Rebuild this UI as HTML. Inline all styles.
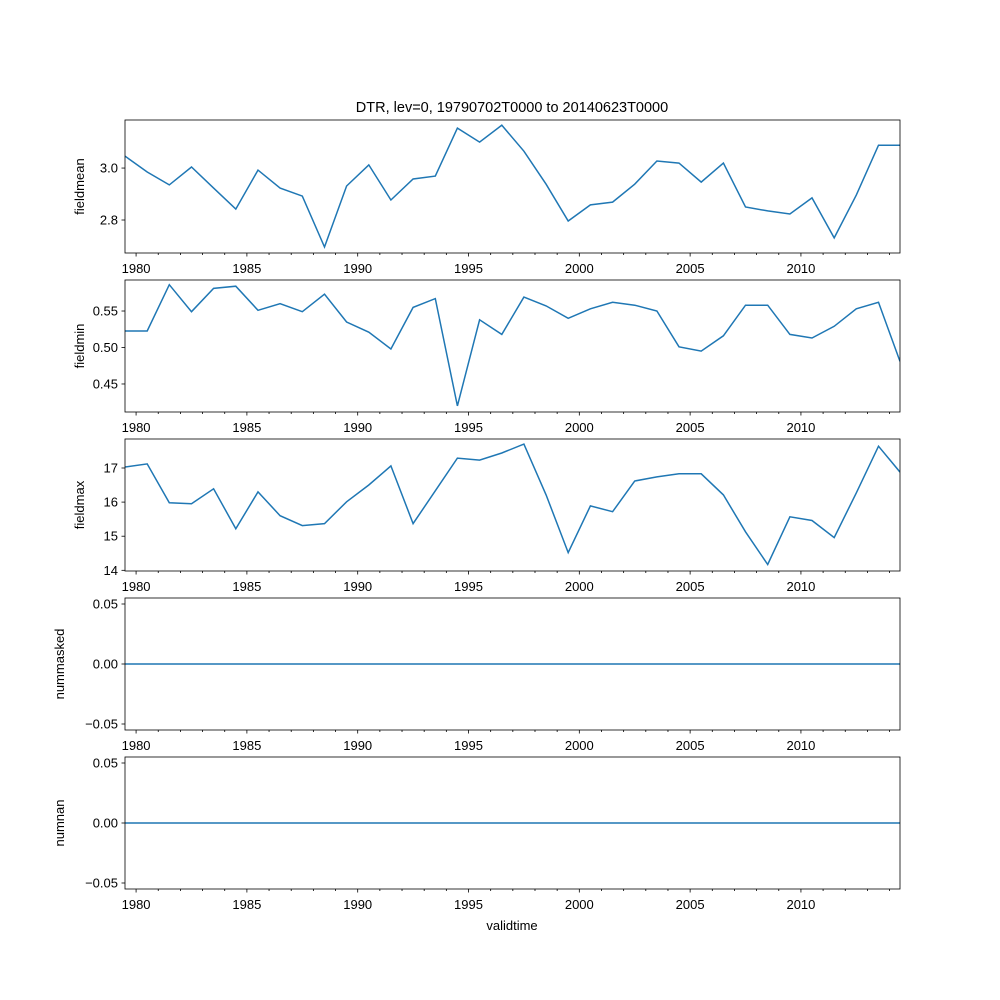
<!DOCTYPE html>
<html><head><meta charset="utf-8"><style>
body{margin:0;background:#fff;}
svg{display:block;font-family:"Liberation Sans","DejaVu Sans",sans-serif;}
</style></head><body>
<svg id="chart" width="1000" height="1000" xmlns="http://www.w3.org/2000/svg">
<rect width="1000" height="1000" fill="#fff"/>
<text x="512" y="112" font-size="14.5" text-anchor="middle">DTR, lev=0, 19790702T0000 to 20140623T0000</text>
<text x="512" y="930" font-size="13" text-anchor="middle">validtime</text>
</svg>
<script>
const years = [1979.5,1980.5,1981.5,1982.5,1983.5,1984.5,1985.5,1986.5,1987.5,1988.5,1989.5,1990.5,1991.5,1992.5,1993.5,1994.5,1995.5,1996.5,1997.5,1998.5,1999.5,2000.5,2001.5,2002.5,2003.5,2004.5,2005.5,2006.5,2007.5,2008.5,2009.5,2010.5,2011.5,2012.5,2013.5,2014.47];
const fieldmean = [3.046,2.985,2.935,3.004,2.923,2.842,2.992,2.923,2.892,2.696,2.931,3.012,2.877,2.958,2.969,3.154,3.1,3.165,3.065,2.938,2.796,2.858,2.869,2.938,3.027,3.019,2.946,3.019,2.85,2.835,2.823,2.885,2.731,2.896,3.088,3.088];
const fieldmin = [0.5226,0.5226,0.586,0.549,0.581,0.584,0.551,0.560,0.549,0.573,0.535,0.521,0.498,0.555,0.567,0.420,0.538,0.518,0.569,0.557,0.540,0.553,0.562,0.558,0.550,0.501,0.495,0.516,0.558,0.558,0.518,0.513,0.529,0.553,0.562,0.481];
const fieldmax = [17.03,17.12,15.98,15.95,16.39,15.22,16.30,15.60,15.31,15.37,16.01,16.50,17.06,15.37,16.33,17.29,17.23,17.44,17.70,16.21,14.52,15.89,15.72,16.62,16.74,16.83,16.83,16.21,15.13,14.17,15.57,15.46,14.96,16.27,17.64,16.88];
const nummasked = years.map(()=>0);
const numnan = years.map(()=>0);
const xTicks = [1980,1985,1990,1995,2000,2005,2010];

const NS="http://www.w3.org/2000/svg";
const svg=document.getElementById('chart');
const L=125,R=900,X0=1979.5,X1=2014.47;
const xs=v=>L+(v-X0)/(X1-X0)*(R-L);
function mk(tag,attrs,parent){const e=document.createElementNS(NS,tag);for(const k in attrs)e.setAttribute(k,attrs[k]);(parent||svg).appendChild(e);return e;}
const m=s=>s.replace('-','\u2212');

const panels=[
 {name:'fieldmean',data:fieldmean,top:120,bot:253,ymin:2.673,ymax:3.185,ticks:[2.8,3.0],fmt:v=>v.toFixed(1)},
 {name:'fieldmin',data:fieldmin,top:280,bot:412,ymin:0.4116,ymax:0.5925,ticks:[0.45,0.5,0.55],fmt:v=>v.toFixed(2)},
 {name:'fieldmax',data:fieldmax,top:439,bot:571,ymin:13.98,ymax:17.85,ticks:[14,15,16,17],fmt:v=>String(v)},
 {name:'nummasked',data:nummasked,top:598,bot:730,ymin:-0.055,ymax:0.055,ticks:[-0.05,0,0.05],fmt:v=>m(v.toFixed(2))},
 {name:'numnan',data:numnan,top:757,bot:889,ymin:-0.055,ymax:0.055,ticks:[-0.05,0,0.05],fmt:v=>m(v.toFixed(2))}
];
panels.forEach(p=>{
 const g=mk('g',{});
 
 
 const ys=v=>p.bot-(v-p.ymin)/(p.ymax-p.ymin)*(p.bot-p.top);
 const d=p.data.map((v,i)=>(i?'L':'M')+xs(years[i]).toFixed(1)+','+ys(v).toFixed(1)).join('');
 const clip=mk('clipPath',{id:'c-'+p.name},g);
 mk('rect',{x:L,y:p.top,width:R-L,height:p.bot-p.top},clip);
 const line=mk('path',{d:d,fill:'none',stroke:'#1f77b4','stroke-width':1.5,'clip-path':'url(#c-'+p.name+')'},g);
 
 
 const fr=mk('rect',{x:L,y:p.top,width:R-L,height:p.bot-p.top,fill:'none',stroke:'#000','stroke-width':0.8},g);
 
 
 for(let y=1980;y<=2014;y++){
   const major=xTicks.includes(y);
   mk('line',{x1:xs(y),x2:xs(y),y1:p.bot,y2:p.bot+(major?3.5:2),stroke:'#000','stroke-width':0.8},g);
 }
 xTicks.forEach(t=>{
   const tx=mk('text',{x:xs(t),y:p.bot+20,'font-size':13,'text-anchor':'middle'},g);
   tx.textContent=t;
   
   
 });
 p.ticks.forEach(t=>{
   const y=ys(t);
   mk('line',{x1:L-3.5,x2:L,y1:y,y2:y,stroke:'#000','stroke-width':0.8},g);
   const tx=mk('text',{x:L-7,y:y+4.5,'font-size':13,'text-anchor':'end'},g);
   tx.textContent=p.fmt(t);
   
   
 });
 const cy=(p.top+p.bot)/2;
 const lx=p.name.startsWith('num')?64:84;
 const yl=mk('text',{x:lx,y:cy,'font-size':13,'text-anchor':'middle',transform:'rotate(-90 '+lx+' '+cy+')'},g);
 yl.textContent=p.name;
 
 
});
</script>
</body></html>
